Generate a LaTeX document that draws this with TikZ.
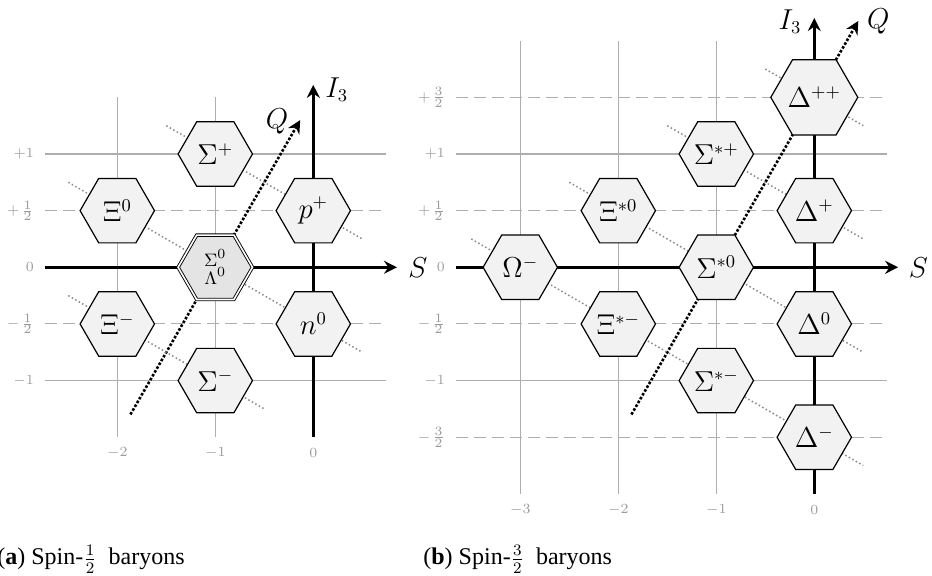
\documentclass[tikz,border=0pt]{standalone}
\usepackage{fontspec}
\newfontfamily\capfont{Liberation Serif}
\usetikzlibrary{shapes.geometric,arrows.meta,backgrounds,calc}
\definecolor{gridgray}{HTML}{AEAEAE}
\definecolor{labgray}{HTML}{9A9A9A}
\definecolor{qgray}{HTML}{8A8A8A}
\definecolor{hexfill}{HTML}{F2F2F2}
\definecolor{hexfilldark}{HTML}{E4E4E4}
\newcommand{\tkfrac}[2]{\mkern2mu\frac{\hbox{\fontsize{6.4}{7}\selectfont#1}}{\hbox{\fontsize{6.4}{7}\selectfont#2}}}
\tikzset{
  hexnode/.style={regular polygon, regular polygon sides=6, minimum size=37.2pt,
    inner sep=0pt, draw=black, line width=0.6pt, fill=hexfill,
    font=\fontsize{13.5}{16}\selectfont},
  hexdouble/.style={hexnode, fill=hexfilldark, double, double distance=0.8pt,
    line width=0.45pt, align=center, font=\fontsize{9.5}{10}\selectfont},
  gridline/.style={draw=gridgray, line width=0.55pt},
  halfline/.style={draw=gridgray, line width=0.55pt, dash pattern=on 6pt off 3pt},
  tipstyle/.style={-{Stealth[length=6.5pt,width=6.5pt,inset=2.2pt]}},
  axisline/.style={draw=black, line width=1.3pt, tipstyle},
  qaxis/.style={draw=black, line width=1.3pt, dash pattern=on 1.3pt off 0.9pt, tipstyle},
  qline/.style={draw=qgray, line width=0.75pt, dash pattern=on 0.75pt off 1.25pt},
  ticklab/.style={text=labgray, font=\fontsize{7.5}{8}\selectfont, inner sep=0pt},
  axislab/.style={font=\fontsize{13.5}{15}\selectfont, inner sep=0pt},
  caplab/.style={font=\capfont\fontsize{12}{14}\selectfont, inner sep=0pt, anchor=base west},
}
\begin{document}
\begin{tikzpicture}[x=0.5pt,y=-0.5pt]
\useasboundingbox (0,0) rectangle (932,576);
% ---------------- left: spin 1/2 ----------------
\begin{scope}[shift={(313.3,267.3)}, x=49pt, y=56.65pt]
  \node[hexnode] (Sp) at (-1,1) {$\Sigma^+$};
  \node[hexnode] (Xi0) at (-2,0.5) {$\Xi^0$};
  \node[hexnode] (pp) at (0,0.5) {$p^+$};
  \node[hexdouble] (S0) at (-1,0) {$\Sigma^0$\\[-1pt]$\Lambda^0$};
  \node[hexnode] (Xim) at (-2,-0.5) {$\Xi^-$};
  \node[hexnode] (n0) at (0,-0.5) {$n^0$};
  \node[hexnode] (Sm) at (-1,-1) {$\Sigma^-$};
  \begin{scope}[on background layer]
    \foreach \s in {-2,-1} \draw[gridline] (\s,-1.5) -- (\s,1.5);
    \foreach \i in {-1,1} \draw[gridline] (-2.735,\i) -- (0.74,\i);
    \foreach \i in {-0.5,0.5} \draw[halfline] (-2.735,\i) -- (0.74,\i);
    \coordinate (LSa) at (-2.735,0);
    \coordinate (LSb) at (0.854,0);
    \coordinate (LIa) at (0,-1.5);
    \coordinate (LIb) at (0,1.61);
    \coordinate (LQa) at (-1.866,-1.299);
    \coordinate (LQb) at (-0.134,1.299);
    \draw[axisline] (LSa) -- (LSb);
    \draw[axisline] (LIa) -- (LIb);
    \draw[qaxis] (LQa) -- (LQb);
    \draw[qline] ($(Sp)+(-0.5,0.25)$) -- ($(pp)+(0.5,-0.25)$);
    \draw[qline] ($(Xi0)+(-0.5,0.25)$) -- ($(n0)+(0.5,-0.25)$);
    \draw[qline] ($(Xim)+(-0.5,0.25)$) -- ($(Sm)+(0.5,-0.25)$);
  \end{scope}
  \node[axislab] (LSlab) at (1.068,0) {$S$};
  \node[axislab] (LIlab) at (0.24,1.565) {$I_3$};
  \node[axislab] (LQlab) at (-0.37,1.285) {$Q$};
  \foreach \i/\t in {1/+1,0.5/+\tkfrac{1}{2},0/0,-0.5/-\tkfrac{1}{2},-1/-1}
    \node[ticklab, anchor=east] at ($(-2.735,\i)+(-5.5pt,0)$) {$\t$};
  \foreach \s/\t in {-2/-2,-1/-1,0/0}
    \node[ticklab] at ($(\s,-1.5)+(0,-7.8pt)$) {$\t$};
\end{scope}
% ---------------- right: spin 3/2 ----------------
\begin{scope}[shift={(814.3,267.3)}, x=49pt, y=56.65pt]
  \node[hexnode] (Om) at (-3,0) {$\Omega^-$};
  \node[hexnode] (Xis0) at (-2,0.5) {$\Xi^{*0}$};
  \node[hexnode] (Xism) at (-2,-0.5) {$\Xi^{*-}$};
  \node[hexnode] (Ssp) at (-1,1) {$\Sigma^{*+}$};
  \node[hexnode] (Ss0) at (-1,0) {$\Sigma^{*0}$};
  \node[hexnode] (Ssm) at (-1,-1) {$\Sigma^{*-}$};
  \node[hexnode] (Dpp) at (0,1.5) {$\Delta^{++}$};
  \node[hexnode] (Dp) at (0,0.5) {$\Delta^{+}$};
  \node[hexnode] (D0) at (0,-0.5) {$\Delta^{0}$};
  \node[hexnode] (Dm) at (0,-1.5) {$\Delta^{-}$};
  \begin{scope}[on background layer]
    \foreach \s in {-3,-2,-1} \draw[gridline] (\s,-2) -- (\s,2);
    \foreach \i in {-1,1} \draw[gridline] (-3.653,\i) -- (0.741,\i);
    \foreach \i in {-1.5,-0.5,0.5,1.5} \draw[halfline] (-3.653,\i) -- (0.741,\i);
    \coordinate (RSa) at (-3.653,0);
    \coordinate (RSb) at (0.855,0);
    \coordinate (RIa) at (0,-2);
    \coordinate (RIb) at (0,2.2);
    \coordinate (RQa) at (-1.866,-1.299);
    \coordinate (RQb) at (0.449,2.174);
    \draw[axisline] (RSa) -- (RSb);
    \draw[axisline] (RIa) -- (RIb);
    \draw[qaxis] (RQa) -- (RQb);
    \draw[qline] ($(Dpp)+(-0.5,0.25)$) -- ($(Dpp)+(0.5,-0.25)$);
    \draw[qline] ($(Ssp)+(-0.5,0.25)$) -- ($(Dp)+(0.5,-0.25)$);
    \draw[qline] ($(Xis0)+(-0.5,0.25)$) -- ($(D0)+(0.5,-0.25)$);
    \draw[qline] ($(Om)+(-0.5,0.25)$) -- ($(Dm)+(0.5,-0.25)$);
  \end{scope}
  \node[axislab] (RSlab) at (1.062,0) {$S$};
  \node[axislab] (RIlab) at (-0.248,2.168) {$I_3$};
  \node[axislab] (RQlab) at (0.653,2.168) {$Q$};
  \foreach \i/\t in {1.5/+\tkfrac{3}{2},1/+1,0.5/+\tkfrac{1}{2},0/0,-0.5/-\tkfrac{1}{2},-1/-1,-1.5/-\tkfrac{3}{2}}
    \node[ticklab, anchor=east] at ($(-3.653,\i)+(-5.5pt,0)$) {$\t$};
  \foreach \s/\t in {-3/-3,-2/-2,-1/-1,0/0}
    \node[ticklab] at ($(\s,-2)+(0,-7.8pt)$) {$\t$};
\end{scope}
% ---------------- captions ----------------
\node[caplab] (capa) at (-3,565) {(\textbf{a}) Spin-$\frac{1}{2}$\ \ baryons};
\node[caplab] (capb) at (423,565) {(\textbf{b}) Spin-$\frac{3}{2}$\ \ baryons};
\end{tikzpicture}
\end{document}
